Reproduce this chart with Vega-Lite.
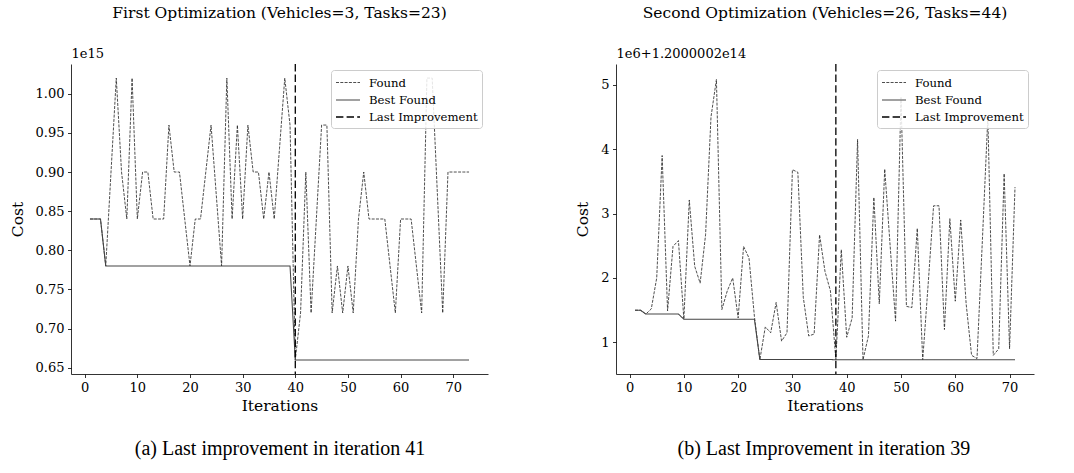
{
  "$schema": "https://vega.github.io/schema/vega-lite/v6.json",
  "padding": {"left": 10, "top": 5, "right": 5, "bottom": 5},
  "config": {
    "view": {"stroke": null},
    "font": "DejaVu Serif",
    "axis": {"labelFont": "DejaVu Serif", "labelFontSize": 13, "labelColor": "black", "titleFont": "DejaVu Serif", "titleFontSize": 15.5, "titleFontWeight": "normal", "titleColor": "black", "domainColor": "black", "tickColor": "black", "grid": false, "tickSize": 3.5, "domainWidth": 0.8, "tickWidth": 0.8, "labelPadding": 3.5},
    "title": {"font": "DejaVu Serif", "fontSize": 15.5, "fontWeight": "normal", "color": "black"},
    "legend": {"orient": "top-right", "offset": 6, "labelFont": "DejaVu Serif", "labelFontSize": 11.7, "labelColor": "black", "fillColor": "rgba(255,255,255,0.85)", "strokeColor": "#cccccc", "cornerRadius": 3, "padding": 4, "symbolType": "M-1.5,0H1.5", "symbolSize": 256, "symbolOffset": 4, "rowPadding": 1, "labelOffset": 12}
  },
  "datasets": {
    "a": [
      {"series": "Found", "iteration": 1, "cost": 0.84}, {"series": "Found", "iteration": 2, "cost": 0.84}, {"series": "Found", "iteration": 3, "cost": 0.84}, {"series": "Found", "iteration": 4, "cost": 0.78}, {"series": "Found", "iteration": 5, "cost": 0.90}, {"series": "Found", "iteration": 6, "cost": 1.02}, {"series": "Found", "iteration": 7, "cost": 0.90}, {"series": "Found", "iteration": 8, "cost": 0.84}, {"series": "Found", "iteration": 9, "cost": 1.02}, {"series": "Found", "iteration": 10, "cost": 0.84},
      {"series": "Found", "iteration": 11, "cost": 0.90}, {"series": "Found", "iteration": 12, "cost": 0.90}, {"series": "Found", "iteration": 13, "cost": 0.84}, {"series": "Found", "iteration": 14, "cost": 0.84}, {"series": "Found", "iteration": 15, "cost": 0.84}, {"series": "Found", "iteration": 16, "cost": 0.96}, {"series": "Found", "iteration": 17, "cost": 0.90}, {"series": "Found", "iteration": 18, "cost": 0.90}, {"series": "Found", "iteration": 19, "cost": 0.84}, {"series": "Found", "iteration": 20, "cost": 0.78},
      {"series": "Found", "iteration": 21, "cost": 0.84}, {"series": "Found", "iteration": 22, "cost": 0.84}, {"series": "Found", "iteration": 23, "cost": 0.90}, {"series": "Found", "iteration": 24, "cost": 0.96}, {"series": "Found", "iteration": 25, "cost": 0.87}, {"series": "Found", "iteration": 26, "cost": 0.78}, {"series": "Found", "iteration": 27, "cost": 1.02}, {"series": "Found", "iteration": 28, "cost": 0.84}, {"series": "Found", "iteration": 29, "cost": 0.96}, {"series": "Found", "iteration": 30, "cost": 0.84},
      {"series": "Found", "iteration": 31, "cost": 0.96}, {"series": "Found", "iteration": 32, "cost": 0.90}, {"series": "Found", "iteration": 33, "cost": 0.90}, {"series": "Found", "iteration": 34, "cost": 0.84}, {"series": "Found", "iteration": 35, "cost": 0.90}, {"series": "Found", "iteration": 36, "cost": 0.84}, {"series": "Found", "iteration": 37, "cost": 0.93}, {"series": "Found", "iteration": 38, "cost": 1.02}, {"series": "Found", "iteration": 39, "cost": 0.96}, {"series": "Found", "iteration": 40, "cost": 0.66},
      {"series": "Found", "iteration": 41, "cost": 0.72}, {"series": "Found", "iteration": 42, "cost": 0.90}, {"series": "Found", "iteration": 43, "cost": 0.72}, {"series": "Found", "iteration": 44, "cost": 0.84}, {"series": "Found", "iteration": 45, "cost": 0.96}, {"series": "Found", "iteration": 46, "cost": 0.96}, {"series": "Found", "iteration": 47, "cost": 0.72}, {"series": "Found", "iteration": 48, "cost": 0.78}, {"series": "Found", "iteration": 49, "cost": 0.72}, {"series": "Found", "iteration": 50, "cost": 0.78},
      {"series": "Found", "iteration": 51, "cost": 0.72}, {"series": "Found", "iteration": 52, "cost": 0.84}, {"series": "Found", "iteration": 53, "cost": 0.90}, {"series": "Found", "iteration": 54, "cost": 0.84}, {"series": "Found", "iteration": 55, "cost": 0.84}, {"series": "Found", "iteration": 56, "cost": 0.84}, {"series": "Found", "iteration": 57, "cost": 0.84}, {"series": "Found", "iteration": 58, "cost": 0.78}, {"series": "Found", "iteration": 59, "cost": 0.72}, {"series": "Found", "iteration": 60, "cost": 0.84},
      {"series": "Found", "iteration": 61, "cost": 0.84}, {"series": "Found", "iteration": 62, "cost": 0.84}, {"series": "Found", "iteration": 63, "cost": 0.78}, {"series": "Found", "iteration": 64, "cost": 0.72}, {"series": "Found", "iteration": 65, "cost": 1.02}, {"series": "Found", "iteration": 66, "cost": 1.02}, {"series": "Found", "iteration": 67, "cost": 0.87}, {"series": "Found", "iteration": 68, "cost": 0.72}, {"series": "Found", "iteration": 69, "cost": 0.90}, {"series": "Found", "iteration": 70, "cost": 0.90},
      {"series": "Found", "iteration": 71, "cost": 0.90}, {"series": "Found", "iteration": 72, "cost": 0.90}, {"series": "Found", "iteration": 73, "cost": 0.90},
      {"series": "Best Found", "iteration": 1, "cost": 0.84}, {"series": "Best Found", "iteration": 2, "cost": 0.84}, {"series": "Best Found", "iteration": 3, "cost": 0.84}, {"series": "Best Found", "iteration": 4, "cost": 0.78}, {"series": "Best Found", "iteration": 10, "cost": 0.78}, {"series": "Best Found", "iteration": 20, "cost": 0.78}, {"series": "Best Found", "iteration": 30, "cost": 0.78}, {"series": "Best Found", "iteration": 39, "cost": 0.78}, {"series": "Best Found", "iteration": 40, "cost": 0.66}, {"series": "Best Found", "iteration": 50, "cost": 0.66}, {"series": "Best Found", "iteration": 60, "cost": 0.66}, {"series": "Best Found", "iteration": 73, "cost": 0.66},
      {"series": "Last Improvement", "iteration": 40}
    ],
    "b": [
      {"series": "Found", "iteration": 1, "cost": 1.5}, {"series": "Found", "iteration": 2, "cost": 1.5}, {"series": "Found", "iteration": 3, "cost": 1.44}, {"series": "Found", "iteration": 4, "cost": 1.52}, {"series": "Found", "iteration": 5, "cost": 2.0}, {"series": "Found", "iteration": 6, "cost": 3.9}, {"series": "Found", "iteration": 7, "cost": 1.49}, {"series": "Found", "iteration": 8, "cost": 2.49}, {"series": "Found", "iteration": 9, "cost": 2.58}, {"series": "Found", "iteration": 10, "cost": 1.36},
      {"series": "Found", "iteration": 11, "cost": 3.21}, {"series": "Found", "iteration": 12, "cost": 2.18}, {"series": "Found", "iteration": 13, "cost": 1.92}, {"series": "Found", "iteration": 14, "cost": 2.67}, {"series": "Found", "iteration": 15, "cost": 4.5}, {"series": "Found", "iteration": 16, "cost": 5.08}, {"series": "Found", "iteration": 17, "cost": 1.51}, {"series": "Found", "iteration": 18, "cost": 1.8}, {"series": "Found", "iteration": 19, "cost": 2.0}, {"series": "Found", "iteration": 20, "cost": 1.38},
      {"series": "Found", "iteration": 21, "cost": 2.49}, {"series": "Found", "iteration": 22, "cost": 2.31}, {"series": "Found", "iteration": 23, "cost": 1.4}, {"series": "Found", "iteration": 24, "cost": 0.73}, {"series": "Found", "iteration": 25, "cost": 1.24}, {"series": "Found", "iteration": 26, "cost": 1.15}, {"series": "Found", "iteration": 27, "cost": 1.62}, {"series": "Found", "iteration": 28, "cost": 1.02}, {"series": "Found", "iteration": 29, "cost": 1.15}, {"series": "Found", "iteration": 30, "cost": 3.68},
      {"series": "Found", "iteration": 31, "cost": 3.64}, {"series": "Found", "iteration": 32, "cost": 1.7}, {"series": "Found", "iteration": 33, "cost": 1.1}, {"series": "Found", "iteration": 34, "cost": 1.13}, {"series": "Found", "iteration": 35, "cost": 2.67}, {"series": "Found", "iteration": 36, "cost": 2.1}, {"series": "Found", "iteration": 37, "cost": 1.8}, {"series": "Found", "iteration": 38, "cost": 0.73}, {"series": "Found", "iteration": 39, "cost": 2.44}, {"series": "Found", "iteration": 40, "cost": 1.08},
      {"series": "Found", "iteration": 41, "cost": 1.38}, {"series": "Found", "iteration": 42, "cost": 4.15}, {"series": "Found", "iteration": 43, "cost": 0.73}, {"series": "Found", "iteration": 44, "cost": 1.1}, {"series": "Found", "iteration": 45, "cost": 3.25}, {"series": "Found", "iteration": 46, "cost": 1.6}, {"series": "Found", "iteration": 47, "cost": 3.69}, {"series": "Found", "iteration": 48, "cost": 2.5}, {"series": "Found", "iteration": 49, "cost": 1.33}, {"series": "Found", "iteration": 50, "cost": 4.8},
      {"series": "Found", "iteration": 51, "cost": 1.56}, {"series": "Found", "iteration": 52, "cost": 1.54}, {"series": "Found", "iteration": 53, "cost": 2.77}, {"series": "Found", "iteration": 54, "cost": 0.73}, {"series": "Found", "iteration": 55, "cost": 1.9}, {"series": "Found", "iteration": 56, "cost": 3.12}, {"series": "Found", "iteration": 57, "cost": 3.12}, {"series": "Found", "iteration": 58, "cost": 1.2}, {"series": "Found", "iteration": 59, "cost": 2.92}, {"series": "Found", "iteration": 60, "cost": 1.64},
      {"series": "Found", "iteration": 61, "cost": 2.9}, {"series": "Found", "iteration": 62, "cost": 1.6}, {"series": "Found", "iteration": 63, "cost": 0.8}, {"series": "Found", "iteration": 64, "cost": 0.75}, {"series": "Found", "iteration": 65, "cost": 2.6}, {"series": "Found", "iteration": 66, "cost": 4.5}, {"series": "Found", "iteration": 67, "cost": 0.8}, {"series": "Found", "iteration": 68, "cost": 0.9}, {"series": "Found", "iteration": 69, "cost": 3.62}, {"series": "Found", "iteration": 70, "cost": 0.9},
      {"series": "Found", "iteration": 71, "cost": 3.41},
      {"series": "Best Found", "iteration": 1, "cost": 1.5}, {"series": "Best Found", "iteration": 2, "cost": 1.5}, {"series": "Best Found", "iteration": 3, "cost": 1.44}, {"series": "Best Found", "iteration": 9, "cost": 1.44}, {"series": "Best Found", "iteration": 10, "cost": 1.36}, {"series": "Best Found", "iteration": 23, "cost": 1.36}, {"series": "Best Found", "iteration": 24, "cost": 0.735}, {"series": "Best Found", "iteration": 37, "cost": 0.735}, {"series": "Best Found", "iteration": 38, "cost": 0.73}, {"series": "Best Found", "iteration": 50, "cost": 0.73}, {"series": "Best Found", "iteration": 60, "cost": 0.73}, {"series": "Best Found", "iteration": 71, "cost": 0.73},
      {"series": "Last Improvement", "iteration": 38}
    ]
  },
  "spacing": 87,
  "resolve": {"scale": {"color": "independent", "strokeDash": "independent", "strokeWidth": "independent"}, "legend": {"color": "independent", "strokeDash": "independent", "strokeWidth": "independent"}},
  "hconcat": [
    {
      "title": {"text": "(a) Last improvement in iteration 41", "orient": "bottom", "anchor": "middle", "font": "Liberation Serif", "fontSize": 20, "offset": 25, "dx": 31},
      "resolve": {"scale": {"color": "independent", "strokeDash": "independent", "strokeWidth": "independent"}, "legend": {"color": "independent", "strokeDash": "independent", "strokeWidth": "independent"}},
      "vconcat": [
        {
          "title": {"text": "First Optimization (Vehicles=3, Tasks=23)", "anchor": "middle", "frame": "group", "offset": 26},
          "width": 417,
          "height": 310,
          "data": {"name": "a"},
          "resolve": {"axis": {"x": "independent"}},
          "layer": [
            {
              "transform": [{"filter": "datum.series !== 'Last Improvement'"}],
              "mark": {"type": "line"},
              "encoding": {
                "x": {"field": "iteration", "type": "quantitative", "scale": {"domain": [-2.6, 76.6], "nice": false, "zero": false}, "axis": {"title": "Iterations", "values": [0, 10, 20, 30, 40, 50, 60, 70], "titlePadding": 4}},
                "y": {"field": "cost", "type": "quantitative", "scale": {"domain": [0.642, 1.038], "nice": false, "zero": false}, "axis": {"title": "Cost", "values": [0.65, 0.7, 0.75, 0.8, 0.85, 0.9, 0.95, 1.0], "format": ".2f", "titlePadding": 10}},
                "color": {"field": "series", "type": "nominal", "scale": {"domain": ["Found", "Best Found", "Last Improvement"], "range": ["#222222", "#444444", "#000000"]}, "legend": {"title": null}},
                "strokeDash": {"field": "series", "type": "nominal", "scale": {"domain": ["Found", "Best Found", "Last Improvement"], "range": [[3, 1.3], [1, 0], [7.4, 3.2]]}, "legend": {"title": null}},
                "strokeWidth": {"field": "series", "type": "nominal", "scale": {"domain": ["Found", "Best Found", "Last Improvement"], "range": [0.8, 1.3, 2.3]}, "legend": {"title": null}}
              }
            },
            {
              "transform": [{"filter": "datum.series === 'Last Improvement'"}],
              "mark": {"type": "rule"},
              "encoding": {
                "x": {"field": "iteration", "type": "quantitative", "scale": {"domain": [-2.6, 76.6], "nice": false, "zero": false}, "axis": {"orient": "top", "title": "1e15", "labels": false, "ticks": false, "domain": false, "titleAnchor": "start", "titleFontSize": 13, "titlePadding": 4}},
                "color": {"field": "series", "type": "nominal", "scale": {"domain": ["Found", "Best Found", "Last Improvement"], "range": ["#222222", "#444444", "#000000"]}, "legend": {"title": null}},
                "strokeDash": {"field": "series", "type": "nominal", "scale": {"domain": ["Found", "Best Found", "Last Improvement"], "range": [[3, 1.3], [1, 0], [7.4, 3.2]]}, "legend": {"title": null}},
                "strokeWidth": {"field": "series", "type": "nominal", "scale": {"domain": ["Found", "Best Found", "Last Improvement"], "range": [0.8, 1.3, 2.3]}, "legend": {"title": null}}
              }
            }
          ]
        }
      ]
    },
    {
      "title": {"text": "(b) Last Improvement in iteration 39", "orient": "bottom", "anchor": "middle", "font": "Liberation Serif", "fontSize": 20, "offset": 25, "dx": 19},
      "resolve": {"scale": {"color": "independent", "strokeDash": "independent", "strokeWidth": "independent"}, "legend": {"color": "independent", "strokeDash": "independent", "strokeWidth": "independent"}},
      "vconcat": [
        {
          "title": {"text": "Second Optimization (Vehicles=26, Tasks=44)", "anchor": "middle", "frame": "group", "offset": 26},
          "width": 418,
          "height": 310,
          "data": {"name": "b"},
          "resolve": {"axis": {"x": "independent"}},
          "layer": [
            {
              "transform": [{"filter": "datum.series !== 'Last Improvement'"}],
              "mark": {"type": "line"},
              "encoding": {
                "x": {"field": "iteration", "type": "quantitative", "scale": {"domain": [-2.5, 74.5], "nice": false, "zero": false}, "axis": {"title": "Iterations", "values": [0, 10, 20, 30, 40, 50, 60, 70], "titlePadding": 4}},
                "y": {"field": "cost", "type": "quantitative", "scale": {"domain": [0.51, 5.32], "nice": false, "zero": false}, "axis": {"title": "Cost", "values": [1, 2, 3, 4, 5], "format": "d", "titlePadding": 10}},
                "color": {"field": "series", "type": "nominal", "scale": {"domain": ["Found", "Best Found", "Last Improvement"], "range": ["#222222", "#444444", "#000000"]}, "legend": {"title": null}},
                "strokeDash": {"field": "series", "type": "nominal", "scale": {"domain": ["Found", "Best Found", "Last Improvement"], "range": [[3, 1.3], [1, 0], [7.4, 3.2]]}, "legend": {"title": null}},
                "strokeWidth": {"field": "series", "type": "nominal", "scale": {"domain": ["Found", "Best Found", "Last Improvement"], "range": [0.8, 1.3, 2.3]}, "legend": {"title": null}}
              }
            },
            {
              "transform": [{"filter": "datum.series === 'Last Improvement'"}],
              "mark": {"type": "rule"},
              "encoding": {
                "x": {"field": "iteration", "type": "quantitative", "scale": {"domain": [-2.5, 74.5], "nice": false, "zero": false}, "axis": {"orient": "top", "title": "1e6+1.2000002e14", "labels": false, "ticks": false, "domain": false, "titleAnchor": "start", "titleFontSize": 13, "titlePadding": 4}},
                "color": {"field": "series", "type": "nominal", "scale": {"domain": ["Found", "Best Found", "Last Improvement"], "range": ["#222222", "#444444", "#000000"]}, "legend": {"title": null}},
                "strokeDash": {"field": "series", "type": "nominal", "scale": {"domain": ["Found", "Best Found", "Last Improvement"], "range": [[3, 1.3], [1, 0], [7.4, 3.2]]}, "legend": {"title": null}},
                "strokeWidth": {"field": "series", "type": "nominal", "scale": {"domain": ["Found", "Best Found", "Last Improvement"], "range": [0.8, 1.3, 2.3]}, "legend": {"title": null}}
              }
            }
          ]
        }
      ]
    }
  ]
}
